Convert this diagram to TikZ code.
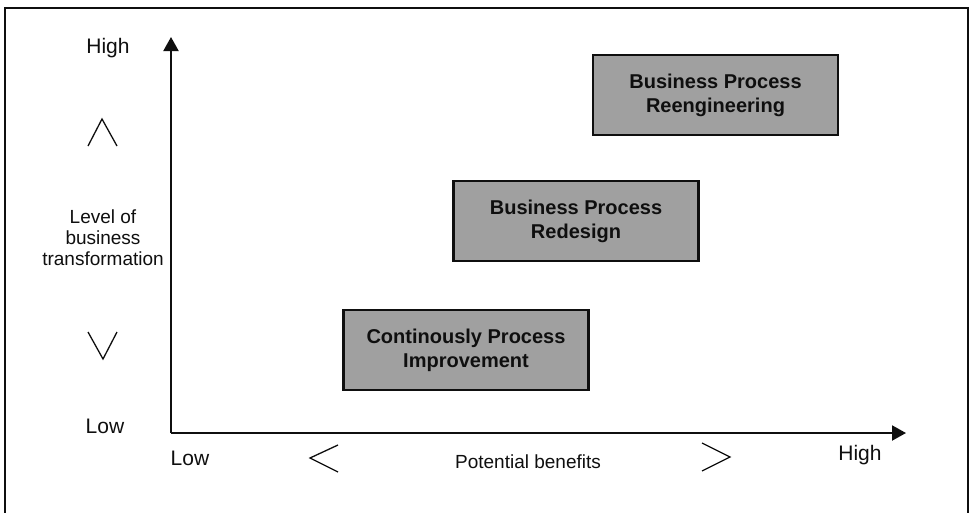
\documentclass[tikz,border=0pt]{standalone}
\usepackage{fontspec}
\setmainfont{Liberation Sans}
\usetikzlibrary{arrows.meta}
\definecolor{boxgray}{RGB}{160,160,160}
\definecolor{ink}{RGB}{15,15,15}
\tikzset{
  lbl/.style={font=\fontsize{19}{21}\selectfont, text=ink, inner sep=0pt, align=center},
  hilo/.style={font=\fontsize{21}{22}\selectfont, text=ink, inner sep=0pt},
  stage/.style={draw=ink, line width=2.2pt, fill=boxgray, minimum width=245pt, minimum height=80pt,
     font=\bfseries\fontsize{20}{24}\selectfont, text=ink, align=center, inner sep=0pt},
  axis/.style={draw=ink, line width=2pt, -{Triangle[length=14pt,width=15pt]}},
  chev/.style={draw=ink, line width=1.3pt},
}
\begin{document}
\begin{tikzpicture}[x=1pt,y=-1pt]
\useasboundingbox (0,0) rectangle (969,512);
\fill[white] (0,0) rectangle (969,512);
% frame
\draw[ink, line width=2pt] (5,530) -- (5,8) -- (968,8) -- (968,530);
% axes
\coordinate (origin) at (171,433);
\coordinate (ytip) at (171,37);
\coordinate (xtip) at (906,433);
\draw[axis] (origin) -- (ytip);
\draw[axis] (origin) -- (xtip);
% vertical labels
\node[hilo] (yhigh) at (108,48) {High};
\node[lbl] (ylevel) at (103,238) {Level of\\business\\transformation};
\node[hilo] (ylow) at (105,426) {Low};
\draw[chev] (88,146) -- (102,119) -- (117,146);
\draw[chev] (88,332) -- (103,359) -- (117,332);
% horizontal labels
\node[hilo] (xlow) at (190,458) {Low};
\node[lbl] (xben) at (528,462) {Potential benefits};
\node[hilo] (xhigh) at (860,455) {High};
\draw[chev] (338,445) -- (310,458) -- (338,472);
\draw[chev] (702,443) -- (730,457) -- (702,471);
% stages
\node[stage] (cpi) at (466,350) {Continously Process\\Improvement};
\node[stage] (bpr) at (576,221) {Business Process\\Redesign};
\node[stage] (bpre) at (715.5,95) {Business Process\\Reengineering};
\end{tikzpicture}
\end{document}
